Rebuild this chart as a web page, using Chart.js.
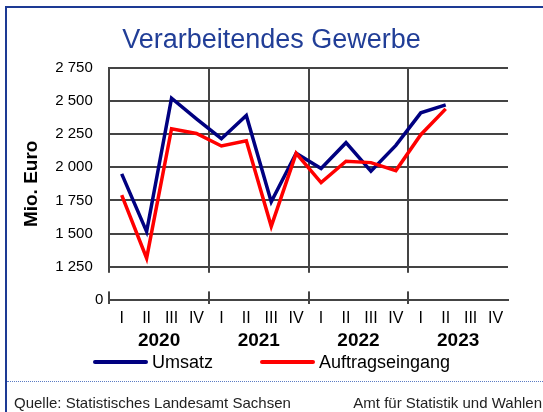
<!DOCTYPE html>
<html>
<head>
<meta charset="utf-8">
<script src="https://cdn.jsdelivr.net/npm/chart.js@4.4.0/dist/chart.umd.min.js"></script>
<style>
  body { margin: 0; width: 543px; height: 412px; overflow: hidden; background: #fff; position: relative;
         font-family: "Liberation Sans", Arial, sans-serif; }
  #frame { position: absolute; left: 5px; top: 6px; width: 600px; height: 500px;
           border-top: 2px solid #1d3a94; border-left: 2px solid #1d3a94; }
  canvas { position: absolute; left: 0; top: 0; }
  #legend { position: absolute; top: 351px; left: 93px; display: flex; gap: 47px; font-size: 18px; line-height: 22px; color: #000; }
  #legend .item { display: flex; align-items: center; }
  #legend .swatch { width: 55px; height: 4px; border-radius: 2px; margin-right: 4px; }
  #rule { position: absolute; left: 7px; right: 0; top: 381px; border-top: 1px dotted #5b7cc4; }
  .foot { position: absolute; top: 394px; font-size: 15px; line-height: 18px; color: #222; white-space: nowrap; }
</style>
</head>
<body>
<div id="frame"></div>
<canvas id="chart" width="543" height="412"></canvas>
<div id="legend"></div>
<div id="rule"></div>
<div class="foot" style="left:14px">Quelle: Statistisches Landesamt Sachsen</div>
<div class="foot" style="right:1px">Amt für Statistik und Wahlen</div>
<script>
const quarters = ['I', 'II', 'III', 'IV', 'I', 'II', 'III', 'IV', 'I', 'II', 'III', 'IV', 'I', 'II', 'III', 'IV'];
const years = ['2020', '2021', '2022', '2023'];
// Mio. Euro, 2020 Q1 .. 2023 Q2
const umsatz = [1950, 1515, 2520, 2365, 2215, 2390, 1740, 2105, 1990, 2185, 1970, 2165, 2410, 2470, null, null];
const auftragseingang = [1790, 1315, 2290, 2255, 2160, 2200, 1555, 2105, 1885, 2045, 2035, 1975, 2245, 2440, null, null];

const fmt = v => String(v).replace(/\B(?=(\d{3})+(?!\d))/g, ' ');
const gridColor = '#444';

// the axis is broken below 1 250: the bottom line stands for 0
const axisBreak = {
    id: 'axisBreak',
    beforeDatasetsDraw(chart) {
        const { ctx, chartArea, scales: { y } } = chart;
        const top = y.getPixelForValue(1205);
        const bottom = y.getPixelForValue(1065);
        ctx.save();
        ctx.fillStyle = '#fff';
        ctx.fillRect(chartArea.left - 3, top, chartArea.right - chartArea.left + 6, bottom - top);
        ctx.restore();
    }
};

Chart.defaults.font.family = '"Liberation Sans", Arial, sans-serif';
Chart.defaults.color = '#000';

const chart = new Chart(document.getElementById('chart'), {
    type: 'line',
    data: {
        labels: quarters,
        datasets: [
            { label: 'Umsatz', data: umsatz, borderColor: '#000080', backgroundColor: '#000080',
              borderWidth: 3.5, pointRadius: 0, tension: 0, order: 1 },
            { label: 'Auftragseingang', data: auftragseingang, borderColor: '#ff0000', backgroundColor: '#ff0000',
              borderWidth: 3.5, pointRadius: 0, tension: 0, order: 0 }
        ]
    },
    options: {
        responsive: false,
        animation: false,
        devicePixelRatio: 1,
        layout: { padding: { left: 35, right: 35, top: 0, bottom: 64 } },
        plugins: {
            legend: { display: false },
            tooltip: { enabled: false },
            title: {
                display: true,
                text: 'Verarbeitendes Gewerbe',
                color: '#213e97',
                font: { size: 27, weight: 'normal' },
                padding: { top: 24, bottom: 11.3 }
            }
        },
        scales: {
            x: {
                offset: true,
                weight: 0,
                grid: {
                    offset: true,
                    lineWidth: 2,
                    tickLength: 4,
                    color: c => c.index % 4 === 0 ? gridColor : 'transparent'
                },
                border: { color: gridColor, width: 2 },
                ticks: { autoSkip: false, maxRotation: 0, padding: 5, font: { size: 16 } }
            },
            x2: {
                type: 'category',
                labels: years,
                position: 'bottom',
                offset: true,
                weight: 1,
                grid: { display: false, drawTicks: false },
                border: { display: false },
                ticks: { padding: -4, font: { size: 19, weight: 'bold' } }
            },
            y: {
                min: 1000,
                max: 2750,
                grid: { color: gridColor, lineWidth: 2, drawTicks: false },
                border: { color: gridColor, width: 2 },
                ticks: {
                    stepSize: 250,
                    padding: 6,
                    autoSkip: false,
                    font: { size: 15 },
                    // the bottom tick is the "0" of the broken axis, it sits closer to the axis
                    callback: v => v === 1000 ? '0' : fmt(v) + '\u2002\u2009'
                },
                title: {
                    display: true,
                    text: 'Mio. Euro',
                    font: { size: 19, weight: 'bold' },
                    padding: { top: -15, bottom: 6.4 }
                }
            }
        }
    },
    plugins: [axisBreak]
});

// legend below the chart, built from the datasets
const legend = document.getElementById('legend');
chart.data.datasets.forEach(ds => {
    const item = document.createElement('div');
    item.className = 'item';
    const swatch = document.createElement('span');
    swatch.className = 'swatch';
    swatch.style.background = ds.borderColor;
    item.appendChild(swatch);
    item.appendChild(document.createTextNode(ds.label));
    legend.appendChild(item);
});
</script>
</body>
</html>
